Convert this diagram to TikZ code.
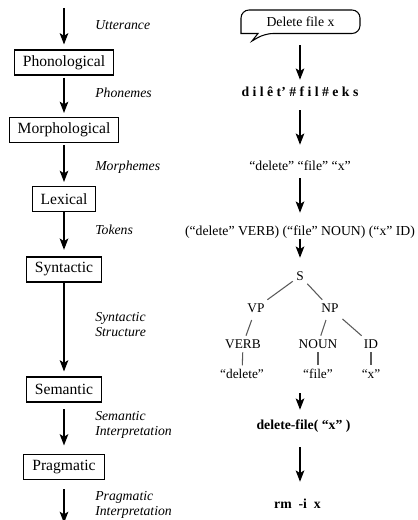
\documentclass[tikz,border=0pt]{standalone}
\usepackage{fontspec}
\setmainfont{Liberation Serif}
\usetikzlibrary{arrows.meta}
\begin{document}
\begin{tikzpicture}[x=0.75pt,y=-0.75pt,
  stage/.style={draw,line width=0.8pt,font=\fontsize{11.7}{14}\selectfont,inner xsep=6.4pt,inner ysep=0pt,minimum height=18.75pt},
  lbl/.style={anchor=west,inner sep=0pt,align=left,font=\fontsize{10.3}{11.25}\selectfont\itshape},
  rtext/.style={inner sep=0pt,text height=7.5pt,text depth=2pt,font=\fontsize{10.3}{12}\selectfont},
  rbold/.style={rtext,font=\fontsize{10.3}{12}\selectfont\bfseries},
  tnode/.style={inner sep=2.5pt,text height=7pt,text depth=0pt,font=\fontsize{10}{12}\selectfont},
  tleaf/.style={inner sep=2.5pt,text height=7pt,text depth=2pt,font=\fontsize{10}{12}\selectfont},
  flow/.style={-{Stealth[length=8.5pt,width=6.5pt,inset=2pt]},line width=1pt},
  branch/.style={draw=black!65,line width=0.8pt}
]
\useasboundingbox (0,0) rectangle (417,520);

% ---------- left column ----------
\coordinate (ltop) at (64,8);
\node[stage] (phon) at (64,62.5) {Phonological};
\node[stage] (morph) at (64,130) {Morphological};
\node[stage] (lex) at (64,199) {Lexical};
\node[stage] (syn) at (64,269.5) {Syntactic};
\node[stage] (sem) at (64,389.5) {Semantic};
\node[stage] (prag) at (64,467) {Pragmatic};
\coordinate (lbot) at (64,523);

\draw[flow,shorten >=3.75pt] (ltop) -- (phon);
\draw[flow,shorten <=1.5pt,shorten >=3pt] (phon) -- (morph);
\draw[flow,shorten <=1.5pt,shorten >=3pt] (morph) -- (lex);
\draw[flow,shorten >=5pt] (lex) -- (syn);
\draw[flow,shorten >=3.75pt] (syn) -- (sem);
\draw[flow,shorten <=5pt,shorten >=6.4pt] (sem) -- (prag);
\draw[flow,shorten <=7pt] (prag) -- (lbot);

\node[lbl] (lutt) at (95,25) {Utterance};
\node[lbl] (lphon) at (95,93) {Phonemes};
\node[lbl] (lmorph) at (95,167) {Morphemes};
\node[lbl] (ltok) at (95,230) {Tokens};
\node[lbl] (lsyn) at (95,325) {Syntactic\\Structure};
\node[lbl] (lsem) at (95,425) {Semantic\\Interpretation};
\node[lbl] (lprag) at (95,505) {Pragmatic\\Interpretation};

% ---------- right column ----------
\coordinate (rc) at (300,0);
\node[inner sep=0pt,minimum width=89.25pt,minimum height=17.25pt,font=\fontsize{10.3}{12}\selectfont] (bubble) at (300.5,21.75) {Delete file x};
\draw[line width=0.8pt] (300,10) [rounded corners=6] -- (360,10) -- (360,33.5) -- (265,33.5) [sharp corners] -- (252,41) -- (258,33.5) -- (241,33.5) [rounded corners=6] -- (241,10) -- cycle;

\node[rbold] (rphon) at (300,93) {d i l ê t' \# f i l \# e k s};
\node[rtext] (rmorph) at (300,167) {“delete” “file” “x”};
\node[rtext] (rtok) at (300,232) {(“delete” VERB) (“file” NOUN) (“x” ID)};

\node[tnode] (S) at (300,276) {S};
\node[tnode] (VP) at (256,308) {VP};
\node[tnode] (NP) at (330,308) {NP};
\node[tnode] (VERB) at (243,344) {VERB};
\node[tnode] (NOUN) at (318,344) {NOUN};
\node[tnode] (ID) at (371,344) {ID};
\node[tleaf] (qdel) at (242,375) {“delete”};
\node[tleaf] (qfile) at (318,375) {“file”};
\node[tleaf] (qx) at (371,375) {“x”};
\draw[branch] (S) -- (VP);
\draw[branch] (S) -- (NP);
\draw[branch,shorten <=3pt] (VP) -- (VERB);
\draw[branch,shorten <=3pt] (NP) -- (NOUN);
\draw[branch,shorten <=3pt] (NP) -- (ID);
\draw[branch] (VERB) -- (qdel);
\draw[branch] (NOUN) -- (qfile);
\draw[branch] (ID) -- (qx);

\coordinate (treeend) at (300,393);
\node[rbold] (rsem) at (303.5,426) {delete-file( “x” )};
\node[rbold] (rprag) at (297.5,505) {rm\ \ -i\ \ x};

\draw[flow,shorten <=8.8pt,shorten >=5pt] (bubble.south -| rc) -- (rphon.north -| rc);
\draw[flow,shorten <=8pt,shorten >=11.75pt] (rphon.south -| rc) -- (rmorph.north -| rc);
\draw[flow,shorten <=3.5pt,shorten >=9.5pt] (rmorph.south -| rc) -- (rtok.north -| rc);
\draw[flow,shorten >=7.5pt] (rtok.south -| rc) -- (S.north -| rc);
\draw[flow,shorten >=7.25pt] (treeend) -- (rsem.north -| rc);
\draw[flow,shorten <=11pt,shorten >=12.5pt] (rsem.south -| rc) -- (rprag.north -| rc);
\end{tikzpicture}
\end{document}
